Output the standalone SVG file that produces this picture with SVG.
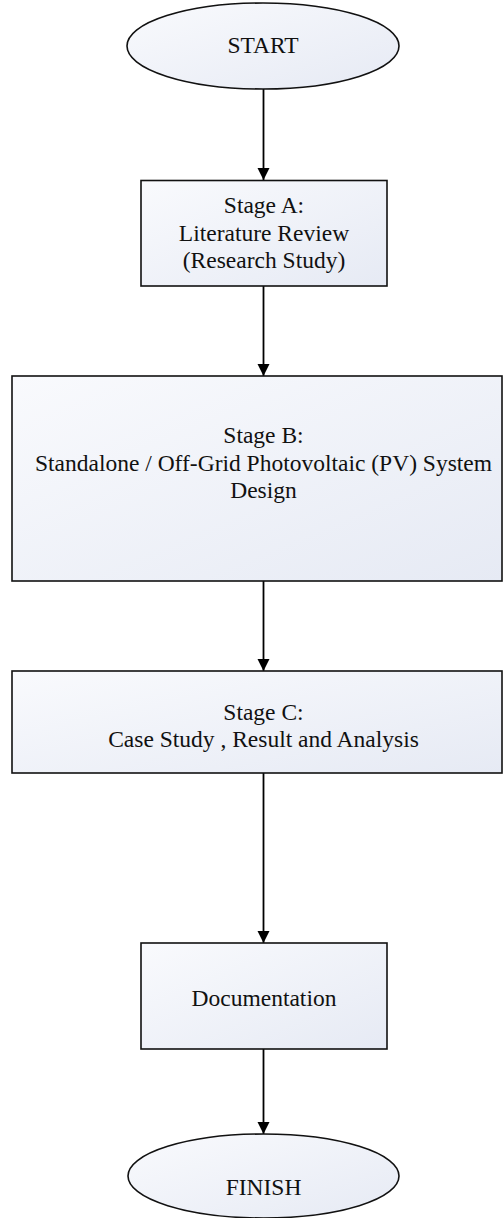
<svg xmlns="http://www.w3.org/2000/svg" width="503" height="1218" viewBox="0 0 503 1218">
  <defs>
    <linearGradient id="fillGrad" x1="0" y1="0" x2="1" y2="1">
      <stop offset="0" stop-color="#f9fafd"/>
      <stop offset="1" stop-color="#e6eaf4"/>
    </linearGradient>
    <marker id="arrow" markerUnits="userSpaceOnUse" markerWidth="14" markerHeight="16" refX="12" refY="6" orient="auto">
      <path d="M0,0 L12,6 L0,12 Z" fill="#000"/>
    </marker>
    <style>
      .shape { fill: url(#fillGrad); stroke: #111; stroke-width: 1.6; }
      .label { font-family: 'Liberation Serif', 'Times New Roman', Times, serif; font-size: 23.5px; fill: #111; text-anchor: middle; }
      .conn { stroke: #000; stroke-width: 1.8; fill: none; marker-end: url(#arrow); }
    </style>
  </defs>

  <g id="connectors">
    <line class="conn" x1="263.5" y1="89" x2="263.5" y2="180"/>
    <line class="conn" x1="263.5" y1="286" x2="263.5" y2="376"/>
    <line class="conn" x1="263.5" y1="581" x2="263.5" y2="671"/>
    <line class="conn" x1="263.5" y1="773" x2="263.5" y2="943"/>
    <line class="conn" x1="263.5" y1="1049" x2="263.5" y2="1134"/>
  </g>

  <g id="start">
    <ellipse class="shape" cx="263" cy="46" rx="136" ry="43"/>
    <text class="label" x="263" y="53">START</text>
  </g>

  <g id="stageA">
    <rect class="shape" x="141" y="180.5" width="246" height="105.5"/>
    <text class="label" x="264" y="213">Stage A:</text>
    <text class="label" x="264" y="240.5">Literature Review</text>
    <text class="label" x="264" y="268">(Research Study)</text>
  </g>

  <g id="stageB">
    <rect class="shape" x="12" y="376" width="490" height="205"/>
    <text class="label" x="263.5" y="442.5">Stage B:</text>
    <text class="label" x="263.5" y="470.5">Standalone / Off-Grid Photovoltaic (PV) System</text>
    <text class="label" x="263.5" y="498">Design</text>
  </g>

  <g id="stageC">
    <rect class="shape" x="12" y="671" width="490" height="102"/>
    <text class="label" x="263.5" y="720">Stage C:</text>
    <text class="label" x="263.5" y="747">Case Study , Result and Analysis</text>
  </g>

  <g id="documentation">
    <rect class="shape" x="141" y="943" width="246" height="106"/>
    <text class="label" x="264" y="1005.5">Documentation</text>
  </g>

  <g id="finish">
    <ellipse class="shape" cx="263.5" cy="1176" rx="135.5" ry="42"/>
    <text class="label" x="263.5" y="1195">FINISH</text>
  </g>
</svg>
